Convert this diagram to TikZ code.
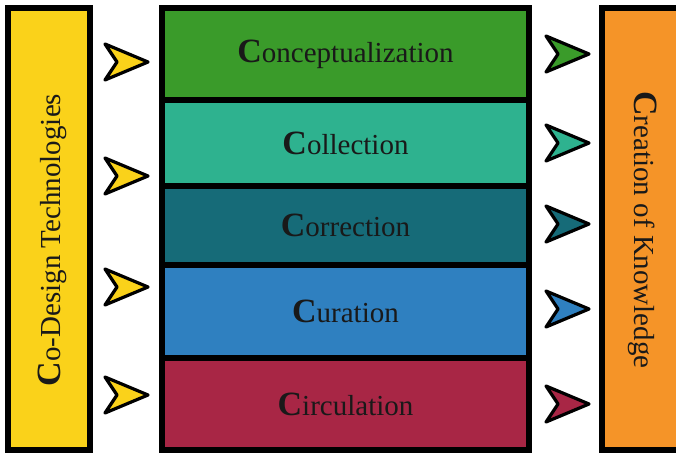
\documentclass[tikz,border=0pt]{standalone}
\usepackage{fontspec}
\setmainfont{Liberation Serif}
\definecolor{cdyellow}{RGB}{250,210,26}
\definecolor{cdorange}{RGB}{245,148,40}
\definecolor{cdgreen}{RGB}{58,155,42}
\definecolor{cdteal}{RGB}{46,178,143}
\definecolor{cddark}{RGB}{22,107,120}
\definecolor{cdblue}{RGB}{47,128,192}
\definecolor{cdred}{RGB}{168,38,69}
\definecolor{cdtext}{RGB}{25,25,25}
% enlarged bold initial letter
\newcommand{\bigC}[1]{{\fontsize{34}{35}\selectfont\bfseries #1}}
\tikzset{
  x=1pt, y=-1pt,
  box/.style={draw=black, line width=6pt, inner sep=0pt, text=cdtext,
    font=\fontsize{29}{32}\selectfont},
  row/.style={box, minimum width=367pt},
  chevron/.style={draw=black, line width=3.2pt, line join=round},
  chev/.pic={\path[pic actions] (-21,-18) -- (22,0) -- (-21,18) -- (-9,0) -- cycle;}
}
\begin{document}
\begin{tikzpicture}
\useasboundingbox (0,0) rectangle (676,454);
\clip (0,0) rectangle (676,454);
\fill[white] (0,0) rectangle (676,454);

% side boxes
\node[box, fill=cdyellow, minimum width=82pt, minimum height=441.5pt] (left) at (49,229.25) {};
\node[rotate=90, text=cdtext, font=\fontsize{29}{32}\selectfont] (lefttext) at (52,240) {\bigC{C}o-Design Technologies};
\node[box, fill=cdorange, minimum width=88pt, minimum height=441.5pt] (right) at (646,229.25) {};
\node[rotate=-90, text=cdtext, font=\fontsize{29}{32}\selectfont] (righttext) at (643,230) {\bigC{C}reation of Knowledge};

% central stack of stages
\node[row, fill=cdgreen, minimum height=91.5pt] (r1) at (345.5,54.25) {\bigC{C}onceptualization};
\node[row, fill=cdteal,  minimum height=86.5pt] (r2) at (345.5,143.25) {\bigC{C}ollection};
\node[row, fill=cddark,  minimum height=78.5pt] (r3) at (345.5,225.75) {\bigC{C}orrection};
\node[row, fill=cdblue,  minimum height=93pt]   (r4) at (345.5,311.5) {\bigC{C}uration};
\node[row, fill=cdred,   minimum height=92pt]   (r5) at (345.5,404) {\bigC{C}irculation};

% input chevrons
\foreach \yy in {62,176,287,395}
  \pic[chevron, fill=cdyellow] at (126,\yy) {chev};

% output chevrons
\pic[chevron, fill=cdgreen] at (567,54) {chev};
\pic[chevron, fill=cdteal]  at (567,143) {chev};
\pic[chevron, fill=cddark]  at (567,224) {chev};
\pic[chevron, fill=cdblue]  at (567,309) {chev};
\pic[chevron, fill=cdred]   at (567,404) {chev};
\end{tikzpicture}
\end{document}
